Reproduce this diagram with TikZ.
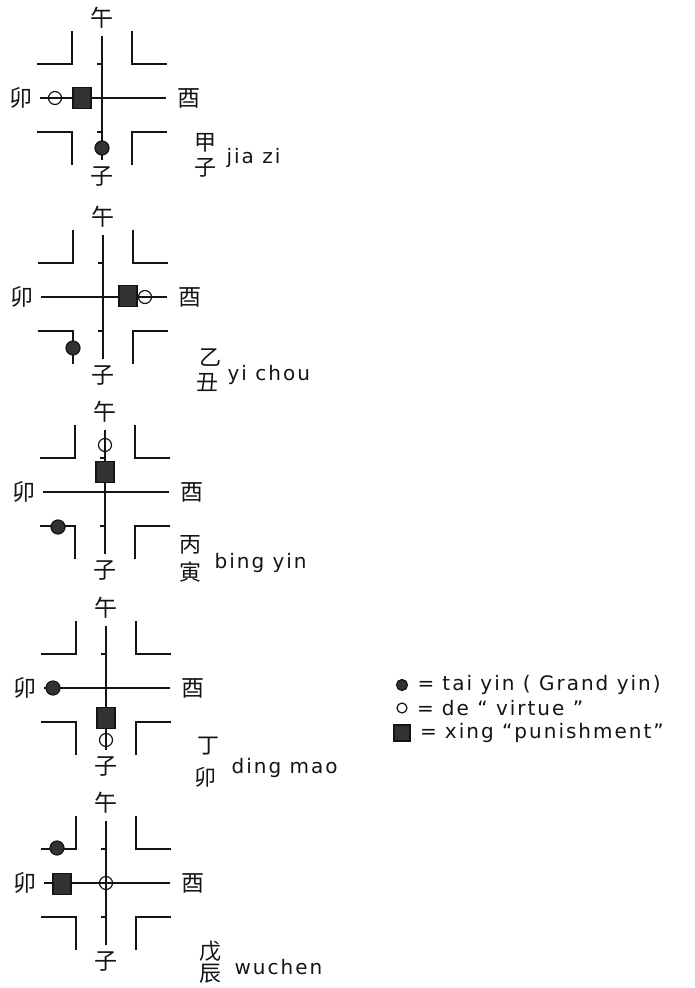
\documentclass[tikz,border=0pt]{standalone}
\usepackage{fontspec}
\usepackage{tikz}
\usetikzlibrary{positioning}
\newfontfamily\cjk{Noto Sans CJK TC}
\newfontfamily\hand{DejaVu Sans}[LetterSpace=10]
\definecolor{cInk}{RGB}{20,20,20}
\definecolor{cMark}{RGB}{50,50,50}

\begin{document}
\begin{tikzpicture}[x=1pt,y=-1pt,line width=1.2pt,cInk,
  zhi/.style={font=\cjk\fontsize{23}{23}\selectfont,inner sep=0pt},
  gan/.style={font=\cjk\fontsize{22}{22}\selectfont,inner sep=0pt},
  pinyin/.style={font=\hand\fontsize{20}{20}\selectfont,inner sep=0pt,anchor=west},
  taiyin/.style={circle,fill=cMark,draw=cInk,minimum size=14pt,inner sep=0pt},
  de/.style={circle,draw=cInk,minimum size=13pt,inner sep=0pt},
  xing/.style={rectangle,fill=cMark,draw=cInk,minimum width=18pt,minimum height=21pt,inner sep=0pt}]
  \useasboundingbox (0,0) rectangle (694,988);
  % the five boards
  \foreach \i/\cx/\cy in {1/102/98,2/103/297,3/105/492,4/106/688,5/106/883} {
    \begin{scope}[shift={(\cx,\cy)}]
      \draw (0,-62) -- (0,62);
      \draw (-62,0) -- (64,0);
      \draw (-5,-34) -- (0,-34) (-5,34) -- (0,34);
      % the four corners
      \foreach \sx in {-1,1}
        \foreach \sy in {-1,1}
          \draw (\sx*30,\sy*67) -- (\sx*30,\sy*34) -- (\sx*65,\sy*34);
      \node[zhi] (wu\i)   at (0,-80) {午};
      \node[zhi] (zi\i)   at (0,78)  {子};
      \node[zhi] (mao\i)  at (-81,0) {卯};
      \node[zhi] (you\i)  at (87,0)  {酉};
    \end{scope}
  }
  % jia zi
  \node[de] (de1) at (55,98) {};
  \node[xing] (xing1) at (82,98) {};
  \node[taiyin] (tai1) at (102,148) {};
  \node[gan] (stem1) at (205,143) {甲};
  \node[gan] (branch1) at (205,168) {子};
  \node[pinyin] (name1) at (226,158) {jia zi};
  % yi chou
  \node[xing] (xing2) at (128,296) {};
  \node[de] (de2) at (145,297) {};
  \node[taiyin] (tai2) at (73,348) {};
  \node[gan] (stem2) at (210,358) {乙};
  \node[gan] (branch2) at (207,383) {丑};
  \node[pinyin] (name2) at (227,375) {yi chou};
  % bing yin
  \node[de] (de3) at (105,445) {};
  \node[xing] (xing3) at (105,472) {};
  \node[taiyin] (tai3) at (58,527) {};
  \node[gan] (stem3) at (190,545) {丙};
  \node[gan] (branch3) at (190,572) {寅};
  \node[pinyin] (name3) at (214,563) {bing yin};
  % ding mao
  \node[taiyin] (tai4) at (53,688) {};
  \node[xing] (xing4) at (106,718) {};
  \node[de] (de4) at (106,740) {};
  \node[gan] (stem4) at (208,746) {丁};
  \node[gan] (branch4) at (205,777) {卯};
  \node[pinyin] (name4) at (231,768) {ding mao};
  % wu chen
  \node[taiyin] (tai5) at (57,848) {};
  \node[xing] (xing5) at (62,884) {};
  \node[de] (de5) at (106,883) {};
  \node[gan] (stem5) at (210,951) {戊};
  \node[gan] (branch5) at (210,974) {辰};
  \node[pinyin] (name5) at (234,967) {wuchen};
  % key
  \node[taiyin,minimum size=11pt] (keyTai) at (402,685) {};
  \node[de,minimum size=10pt] (keyDe) at (402,708) {};
  \node[xing,minimum width=16pt,minimum height=16pt] (keyXing) at (402,733) {};
  \node[pinyin,right=9pt of keyTai] (textTai) {=\hspace{8pt}tai yin ( Grand yin)};
  \node[pinyin,right=9pt of keyDe] (textDe) {=\hspace{8pt}de “ virtue ”};
  \node[pinyin,right=9pt of keyXing] (textXing) {=\hspace{8pt}xing “punishment”};
\end{tikzpicture}
\end{document}
